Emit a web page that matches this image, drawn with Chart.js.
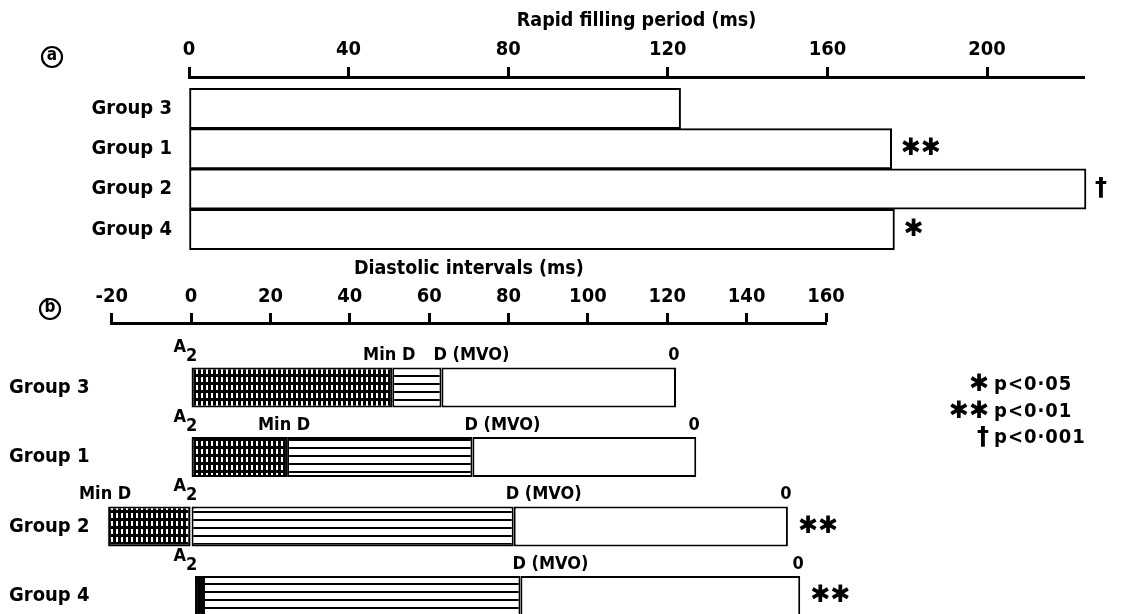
<!DOCTYPE html>
<html><head><meta charset="utf-8">
<script src="https://cdn.jsdelivr.net/npm/chart.js@4.4.1/dist/chart.umd.min.js"></script>
<style>
html,body{margin:0;padding:0;background:#fff;width:1121px;height:614px;overflow:hidden}
#wa{position:absolute;left:0;top:0;width:1121px;height:260px}
#wb{position:absolute;left:0;top:255px;width:1121px;height:359px}
canvas{display:block}
</style></head><body>
<div id="wa"><canvas id="ca" width="1121" height="260"></canvas></div>
<div id="wb"><canvas id="cb" width="1121" height="359"></canvas></div>
<script>
// ---- Panel (a): rapid filling period ----
const titleA = 'Rapid filling period (ms)';
const groupsA = ['Group 3', 'Group 1', 'Group 2', 'Group 4'];
const rapidFilling = [123.2, 176.1, 224.8, 176.8];
const sigA = ['', '✱✱', '†', '✱'];

// ---- Panel (b): diastolic intervals ----
const titleB = 'Diastolic intervals (ms)';
const groupsB = ['Group 3', 'Group 1', 'Group 2', 'Group 4'];
const hatchStart = [0, 0, -20.9, 1];      // start of cross-hatched segment
const hatchEnd = [50.7, 24.2, 0, 3];      // end of cross-hatched segment
const minD = [50.7, 24.2, -20.9, 3];      // Min D
const showMinD = [true, true, true, false];
const mvo = [63.1, 70.9, 81.3, 83.0];     // D (MVO)
const endB = [122.2, 127.3, 150.4, 153.5];// O
const sigB = ['', '', '✱✱', '✱✱'];
const legendSym = ['✱', '✱✱', '†'];
const legendTxt = ['p<0·05', 'p<0·01', 'p<0·001'];

const FONT = "'DejaVu Sans Condensed','DejaVu Sans',sans-serif";
const SYMFONT = 'bold 24px "DejaVu Sans"';
Chart.defaults.font.family = FONT;
Chart.defaults.color = '#000';
Chart.defaults.animation = false;

function crossPattern(ctx) {
  const c = document.createElement('canvas'); c.width = 5; c.height = 8;
  const g = c.getContext('2d');
  g.fillStyle = '#000'; g.fillRect(0, 0, 5, 8);
  g.fillStyle = '#fff'; g.fillRect(1, 2, 2, 5);
  return ctx.createPattern(c, 'repeat');
}
function linePattern(ctx) {
  const c = document.createElement('canvas'); c.width = 8; c.height = 8;
  const g = c.getContext('2d');
  g.fillStyle = '#fff'; g.fillRect(0, 0, 8, 8);
  g.fillStyle = '#000'; g.fillRect(0, 0, 8, 2);
  return ctx.createPattern(c, 'repeat');
}
function circled(ctx, letter, cx, cy) {
  ctx.beginPath(); ctx.lineWidth = 2.2; ctx.strokeStyle = '#000';
  ctx.arc(cx, cy, 10, 0, Math.PI * 2); ctx.stroke();
  ctx.font = 'bold 17px ' + FONT; ctx.textAlign = 'center'; ctx.textBaseline = 'middle';
  ctx.fillText(letter, cx, cy - 1);
}
function noPad(s) { s.paddingTop = 0; s.paddingBottom = 0; s.paddingLeft = 0; s.paddingRight = 0; }

const annotA = {
  id: 'annotA',
  afterDraw(chart) {
    const {ctx, scales: {x, y}} = chart;
    ctx.save();
    ctx.fillStyle = '#000';
    ctx.textAlign = 'left'; ctx.textBaseline = 'middle';
    ctx.font = SYMFONT;
    rapidFilling.forEach((v, i) => {
      if (sigA[i]) ctx.fillText(sigA[i], x.getPixelForValue(v) + 9, y.getPixelForValue(i));
    });
    circled(ctx, 'a', 52, 57);
    ctx.restore();
  }
};

const annotB = {
  id: 'annotB',
  afterDraw(chart) {
    const {ctx, scales: {x, y}} = chart;
    ctx.save();
    ctx.fillStyle = '#000';
    groupsB.forEach((g, i) => {
      const top = y.getPixelForValue(i) - 20;
      const ly = top - 12;
      ctx.font = 'bold 18px ' + FONT;
      ctx.textBaseline = 'middle';
      const x0 = x.getPixelForValue(0);
      ctx.textAlign = 'right';
      ctx.fillText('A', x0 - 5, top - 20);
      ctx.textAlign = 'left';
      ctx.fillText('2', x0 - 5, top - 11);
      if (showMinD[i]) {
        ctx.textAlign = 'center';
        ctx.fillText('Min D', x.getPixelForValue(minD[i]) - 3, ly);
      }
      ctx.textAlign = 'left';
      ctx.fillText('D (MVO)', x.getPixelForValue(mvo[i]) - 8, ly);
      ctx.textAlign = 'center';
      ctx.fillText('0', x.getPixelForValue(endB[i]) - 2, ly);
      if (sigB[i]) {
        ctx.textAlign = 'left';
        ctx.font = SYMFONT;
        ctx.fillText(sigB[i], x.getPixelForValue(endB[i]) + 10, y.getPixelForValue(i));
      }
    });
    circled(ctx, 'b', 50, 54);
    const rows = [130, 157, 183];
    legendSym.forEach((s, k) => {
      ctx.textBaseline = 'middle';
      ctx.textAlign = 'right';
      ctx.font = SYMFONT;
      ctx.fillText(s, 989, rows[k]);
      ctx.textAlign = 'left';
      ctx.font = 'bold 20px ' + FONT;
      ctx.letterSpacing = '1px';
      ctx.fillText(legendTxt[k], 994, rows[k]);
      ctx.letterSpacing = '0px';
    });
    ctx.restore();
  }
};

const ctxA = document.getElementById('ca').getContext('2d');
new Chart(ctxA, {
  type: 'bar',
  data: {datasets: [{
    data: rapidFilling.map((v, i) => ({x: v, y: i})),
    backgroundColor: '#fff', borderColor: '#000', borderWidth: 2, borderSkipped: false,
    barPercentage: 1, categoryPercentage: 1, clip: false
  }]},
  options: {
    indexAxis: 'y', responsive: false, events: [],
    layout: {padding: {left: 0, right: 37, top: 0, bottom: 10}},
    plugins: {legend: {display: false}, tooltip: {enabled: false}},
    scales: {
      x: {
        type: 'linear', position: 'top', min: 0, max: 224.3,
        afterFit: s => { s.height = 77; noPad(s); },
        ticks: {stepSize: 40, includeBounds: false, padding: 5, maxRotation: 0, autoSkip: false,
                font: {size: 20, weight: 'bold'}},
        grid: {drawOnChartArea: false, drawTicks: true, tickLength: 10, tickWidth: 3, tickColor: '#000', color: '#000'},
        border: {display: true, width: 3, color: '#000'},
        title: {display: true, text: titleA, font: {size: 19.5, weight: 'bold'}, padding: {top: 9, bottom: 0}}
      },
      y: {
        type: 'linear', reverse: true, min: -0.78, max: 3.511, offset: false,
        afterFit: s => { s.width = 189; noPad(s); },
        afterBuildTicks: s => { s.ticks = groupsA.map((_, i) => ({value: i})); },
        ticks: {callback: v => groupsA[v], padding: 17, autoSkip: false, font: {size: 20, weight: 'bold'}},
        grid: {display: false, drawTicks: false, offset: false},
        border: {display: false}
      }
    }
  },
  plugins: [annotA]
});

const ctxB = document.getElementById('cb').getContext('2d');
const crossPat = crossPattern(ctxB);
const linePat = linePattern(ctxB);
const common = {borderColor: '#000', borderWidth: 2, borderSkipped: false, grouped: false,
                barPercentage: 0.575, categoryPercentage: 1, clip: false};
new Chart(ctxB, {
  type: 'bar',
  data: {datasets: [
    Object.assign({
      label: 'A2 – Min D',
      data: groupsB.map((_, i) => ({x: [hatchStart[i], hatchEnd[i]], y: i})),
      backgroundColor: groupsB.map((_, i) => (hatchEnd[i] - hatchStart[i] < 5 ? '#000' : crossPat))
    }, common),
    Object.assign({
      label: 'to D (MVO)',
      data: groupsB.map((_, i) => ({x: [hatchEnd[i], mvo[i]], y: i})),
      backgroundColor: linePat
    }, common),
    Object.assign({
      label: 'D (MVO) – O',
      data: groupsB.map((_, i) => ({x: [mvo[i], endB[i]], y: i})),
      backgroundColor: '#fff'
    }, common)
  ]},
  options: {
    indexAxis: 'y', responsive: false, events: [],
    layout: {padding: {left: 9, right: 295, top: 0, bottom: 0}},
    plugins: {legend: {display: false}, tooltip: {enabled: false}},
    scales: {
      x: {
        type: 'linear', position: 'top', min: -20, max: 160,
        afterFit: s => { s.height = 68; noPad(s); },
        ticks: {stepSize: 20, padding: 4, maxRotation: 0, autoSkip: false, font: {size: 20, weight: 'bold'}},
        grid: {drawOnChartArea: false, drawTicks: true, tickLength: 10, tickWidth: 3, tickColor: '#000', color: '#000'},
        border: {display: true, width: 3, color: '#000'},
        title: {display: true, text: titleB, font: {size: 19.5, weight: 'bold'}, padding: {top: 2, bottom: 0}}
      },
      y: {
        type: 'linear', reverse: true, min: -0.928, max: 3.26, offset: false,
        afterFit: s => { s.width = 102.7; noPad(s); },
        afterBuildTicks: s => { s.ticks = groupsB.map((_, i) => ({value: i})); },
        ticks: {callback: v => groupsB[v], crossAlign: 'far', padding: 0, autoSkip: false, font: {size: 20, weight: 'bold'}},
        grid: {display: false, drawTicks: false, offset: false},
        border: {display: false}
      }
    }
  },
  plugins: [annotB]
});
</script>
</body></html>
